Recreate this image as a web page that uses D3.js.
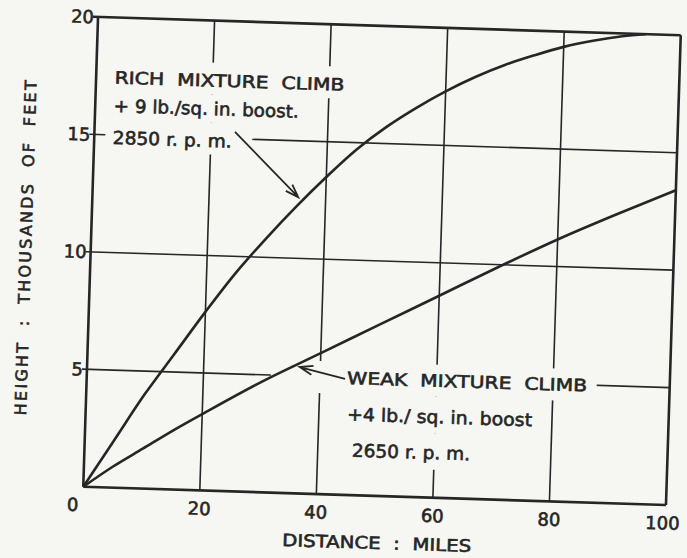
<!DOCTYPE html>
<html>
<head>
<meta charset="utf-8">
<script src="https://cdn.jsdelivr.net/npm/d3@7"></script>
<style>
  body { margin: 0; background: #f6f6f3; }
  text { font-family: "DejaVu Sans", sans-serif; fill: #262626; stroke: #262626; stroke-width: 0.6; white-space: pre; }
</style>
</head>
<body>
<div class="plot"></div>
<script>
// Chart values
var xTicks = [0, 20, 40, 60, 80, 100];
var yTicks = [0, 5, 10, 15, 20];

var richDist   = [0, 5, 10, 15, 20, 25, 30, 35, 40, 45, 50, 55, 60, 65, 70, 75, 80, 85, 90, 94];
var richHeight = [0, 2.0, 4.0, 5.8, 7.6, 9.3, 10.8, 12.2, 13.5, 14.7, 15.7, 16.55, 17.3, 17.95, 18.5, 18.95, 19.35, 19.65, 19.88, 20];

var weakDist   = [0, 5, 10, 15, 20, 30, 40, 50, 60, 70, 80, 90, 100];
var weakHeight = [0, 0.9, 1.7, 2.5, 3.25, 4.7, 6.0, 7.3, 8.6, 9.9, 11.15, 12.3, 13.4];

var richLabel = ["RICH  MIXTURE  CLIMB", "+ 9 lb./sq. in. boost.", "2850 r. p. m."];
var weakLabel = ["WEAK  MIXTURE  CLIMB", "+4 lb./ sq. in. boost", "2650 r. p. m."];

// arrow from label to curve, [distance, height] of start and tip
var richArrow = [[24.1, 15.3], [35.3, 12.6]];
var weakArrow = [[44.3, 4.94], [36.45, 5.38]];

// Layout
var outerWidth = 687, outerHeight = 558;
var margin = {top: 26, left: 90.5},
    width = 583,
    height = 470;
var ink = "#262626";

var svg = d3.select(".plot").append("svg")
    .attr("width", outerWidth)
    .attr("height", outerHeight);

svg.append("rect")
    .attr("width", "100%")
    .attr("height", "100%")
    .attr("fill", "#f6f6f3");

// the scan is a little tilted, so tilt the whole drawing the same way
var page = svg.append("g")
    .attr("transform", "rotate(1.8, 382, 261)");

var canvas = page.append("g")
    .attr("transform", "translate(" + margin.left + "," + margin.top + ")");

var xScale = d3.scaleLinear().domain([0, 100]).range([0, width]);
var yScale = d3.scaleLinear().domain([0, 20]).range([height, 0]);

// grid
canvas.selectAll(".vgrid")
    .data(xTicks)
    .enter().append("line")
    .attr("class", "vgrid")
    .attr("x1", d => xScale(d)).attr("x2", d => xScale(d))
    .attr("y1", 0).attr("y2", height)
    .attr("stroke", ink)
    .attr("stroke-width", d => (d == 0 || d == 100) ? 2.6 : 1.6);

canvas.selectAll(".hgrid")
    .data(yTicks)
    .enter().append("line")
    .attr("class", "hgrid")
    .attr("x1", d => d == 0 ? 0 : -5).attr("x2", width)
    .attr("y1", d => yScale(d)).attr("y2", d => yScale(d))
    .attr("stroke", ink)
    .attr("stroke-width", d => (d == 0 || d == 20) ? 2.6 : 1.6);

// paper showing through behind the lettering (gridlines break there)
var gaps = [
    [9, 42, 258, 32], [9, 74, 210, 28], [11, 102, 147, 32],
    [184, 337, 326, 32], [254, 369, 197, 37], [261, 406, 131, 36]
];
canvas.selectAll(".gap")
    .data(gaps)
    .enter().append("rect")
    .attr("x", d => d[0]).attr("y", d => d[1])
    .attr("width", d => d[2]).attr("height", d => d[3])
    .attr("fill", "#f6f6f3");

// curves
var line = d3.line()
    .x(d => xScale(d[0]))
    .y(d => yScale(d[1]))
    .curve(d3.curveCatmullRom.alpha(0.5));

canvas.append("path")
    .datum(d3.zip(richDist, richHeight))
    .attr("d", line)
    .attr("fill", "none")
    .attr("stroke", ink)
    .attr("stroke-width", 2.6);

canvas.append("path")
    .datum(d3.zip(weakDist, weakHeight))
    .attr("d", line)
    .attr("fill", "none")
    .attr("stroke", ink)
    .attr("stroke-width", 2.6);

// pointer arrows with open heads
function arrow(a) {
    var x0 = xScale(a[0][0]), y0 = yScale(a[0][1]),
        x1 = xScale(a[1][0]), y1 = yScale(a[1][1]);
    var ang = Math.atan2(y1 - y0, x1 - x0), len = 14, spread = 0.33;
    var h1 = [x1 - len * Math.cos(ang - spread), y1 - len * Math.sin(ang - spread)];
    var h2 = [x1 - len * Math.cos(ang + spread), y1 - len * Math.sin(ang + spread)];
    canvas.append("path")
        .attr("d", "M" + x0 + "," + y0 + "L" + x1 + "," + y1 +
                   "M" + h1 + "L" + x1 + "," + y1 + "L" + h2)
        .attr("fill", "none")
        .attr("stroke", ink)
        .attr("stroke-width", 1.8);
}
arrow(richArrow);
arrow(weakArrow);

// annotation lettering
var richPos = [[18.5, 60, 230, 17], [18.5, 88, 185, 18], [18.5, 120, 119, 18]];
var weakPos = [[260.5, 353, 240, 17], [261.5, 389, 185, 18], [267.5, 425, 118, 18]];

function lettering(lines, pos) {
    lines.forEach(function (t, i) {
        canvas.append("text")
            .attr("x", pos[i][0])
            .attr("y", pos[i][1])
            .attr("dominant-baseline", "central")
            .attr("font-size", pos[i][3])
            .attr("textLength", pos[i][2])
            .attr("lengthAdjust", "spacingAndGlyphs")
            .text(t);
    });
}
lettering(richLabel, richPos);
lettering(weakLabel, weakPos);

// tick labels
canvas.selectAll(".xlab")
    .data(xTicks)
    .enter().append("text")
    .attr("class", "xlab")
    .attr("x", d => d == 0 ? xScale(d) - 10 : xScale(d) - (d == 100 ? 3 : 0))
    .attr("y", height + 18)
    .attr("text-anchor", "middle")
    .attr("dominant-baseline", "central")
    .attr("font-size", 18)
    .text(d => d);

canvas.selectAll(".ylab")
    .data(yTicks.filter(d => d > 0))
    .enter().append("text")
    .attr("class", "ylab")
    .attr("x", -4)
    .attr("y", d => yScale(d))
    .attr("text-anchor", "end")
    .attr("dominant-baseline", "central")
    .attr("font-size", 18)
    .text(d => d);

// axis titles
canvas.append("text")
    .attr("text-anchor", "middle")
    .attr("dominant-baseline", "central")
    .attr("x", 295)
    .attr("y", height + 47)
    .attr("font-size", 17)
    .attr("textLength", 189)
    .attr("lengthAdjust", "spacingAndGlyphs")
    .text("DISTANCE  :  MILES");

canvas.append("text")
    .attr("text-anchor", "middle")
    .attr("dominant-baseline", "central")
    .attr("transform", "translate(-65," + (height / 2 - 2) + ") rotate(-90)")
    .attr("font-size", 16)
    .attr("textLength", 335)
    .attr("lengthAdjust", "spacing")
    .text("HEIGHT  :  THOUSANDS  OF  FEET");
</script>
</body>
</html>
